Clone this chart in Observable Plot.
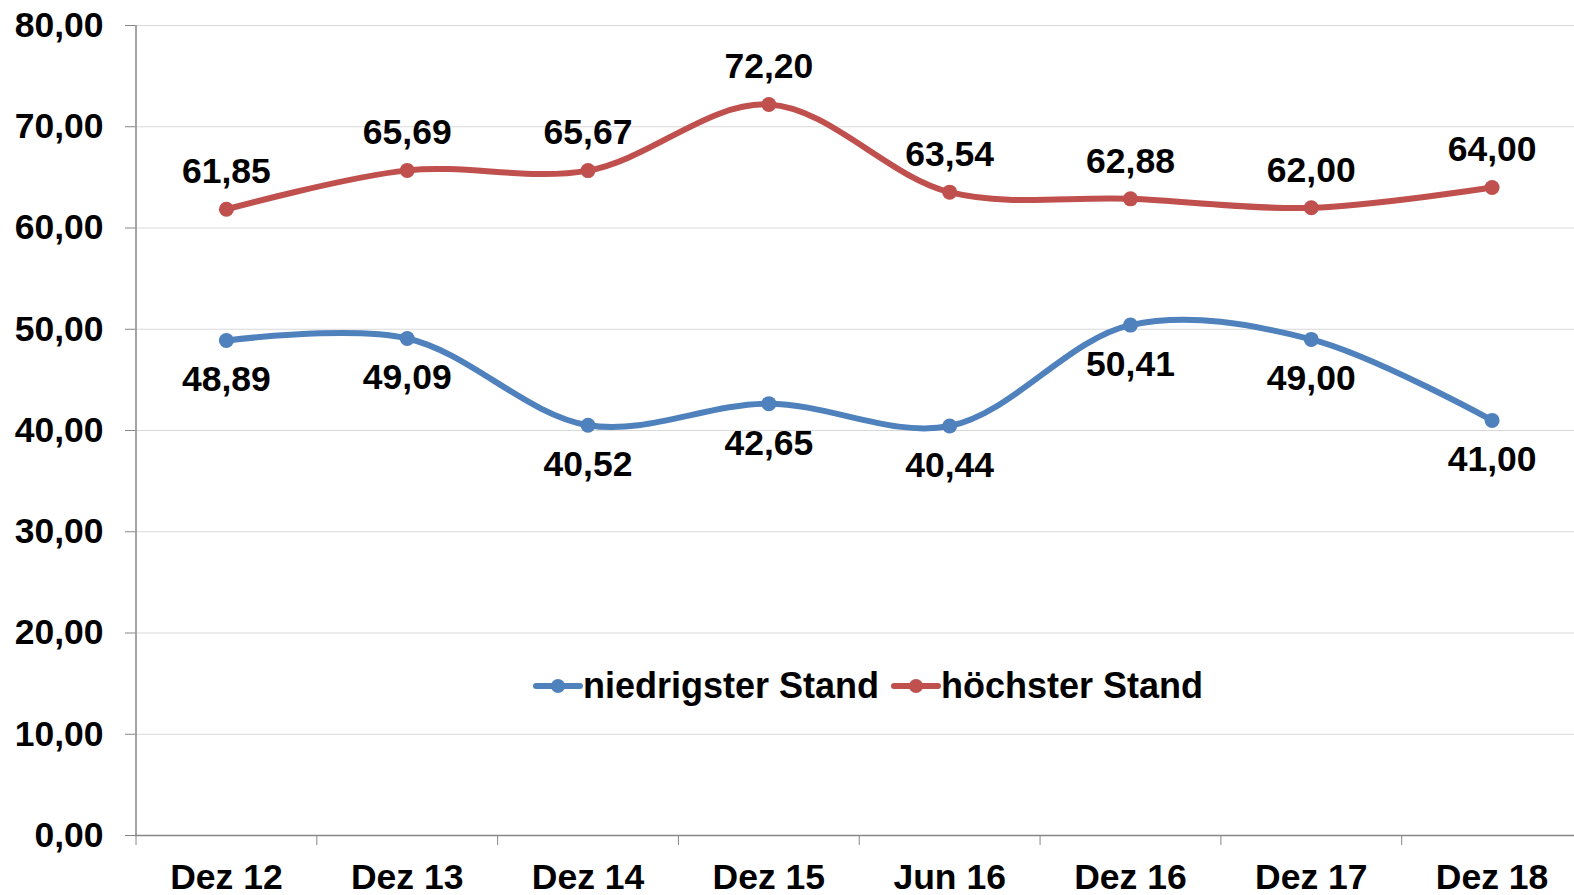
<!DOCTYPE html>
<html>
<head>
<meta charset="utf-8">
<script src="https://cdn.jsdelivr.net/npm/d3@7"></script>
<script src="https://cdn.jsdelivr.net/npm/@observablehq/plot@0.6"></script>
<style>
  html, body { margin: 0; padding: 0; background: #fff; overflow: hidden; }
  #wrap { position: relative; width: 1574px; height: 895px; font-family: "Liberation Sans", Arial, sans-serif; }
  #legend { position: absolute; left: 533px; top: 665px; display: flex; align-items: center; font-weight: bold; font-size: 36px; color: #000; white-space: nowrap; }
  #legend .item { display: flex; align-items: center; margin-right: 12px; }
  #legend svg { display: block; }
</style>
</head>
<body>
<div id="wrap"><div id="chart"></div><div id="legend"></div></div>
<script>
const categories = ["Dez 12", "Dez 13", "Dez 14", "Dez 15", "Jun 16", "Dez 16", "Dez 17", "Dez 18"];
const niedrigster = [48.89, 49.09, 40.52, 42.65, 40.44, 50.41, 49.00, 41.00];
const hoechster = [61.85, 65.69, 65.67, 72.20, 63.54, 62.88, 62.00, 64.00];
const yTicks = [0, 10, 20, 30, 40, 50, 60, 70, 80];
const seriesNames = ["niedrigster Stand", "höchster Stand"];
const seriesColors = ["#4f81bd", "#c0504d"];

const fmt = d => d.toFixed(2).replace(".", ",");
const idx = categories.map((c, i) => i);
const bounds = categories.map((c, i) => i - 0.5).concat([categories.length - 0.5]);
const low = categories.map((c, i) => ({i, v: niedrigster[i]}));
const high = categories.map((c, i) => ({i, v: hoechster[i]}));

const chart = Plot.plot({
  width: 1574,
  height: 895,
  marginLeft: 135,
  marginRight: 0,
  marginTop: 25,
  marginBottom: 60,
  style: {fontFamily: '"Liberation Sans", Arial, sans-serif', fontSize: "35px", fontWeight: "bold", color: "#000", background: "#fff", overflow: "hidden"},
  x: {type: "linear", domain: [-0.5, categories.length - 0.5], range: [135.5, 1582], label: null},
  y: {domain: [0, 80], label: null},
  marks: [
    Plot.gridY(yTicks.filter(d => d > 0), {stroke: "#d9d9d9", strokeOpacity: 1, strokeWidth: 1}),
    Plot.axisY(yTicks, {tickSize: 10, tickPadding: 22, tickFormat: fmt, label: null, stroke: "#868686", strokeOpacity: 1, fill: "#000", fontSize: 35.5, fontWeight: "bold"}),
    Plot.axisX(bounds, {tickSize: 10, tickFormat: () => "", label: null, stroke: "#868686", strokeOpacity: 1}),
    Plot.axisX(idx, {tickSize: 0, tickPadding: 28, tickFormat: i => categories[i], label: null, fill: "#000", fontSize: 35.5, fontWeight: "bold"}),
    Plot.ruleX([-0.5], {y1: 0, y2: 80, stroke: "#868686", strokeWidth: 1.5}),
    Plot.ruleY([0], {stroke: "#868686", strokeWidth: 1.5}),
    Plot.line(low, {x: "i", y: "v", stroke: seriesColors[0], strokeWidth: 6, curve: "catmull-rom"}),
    Plot.line(high, {x: "i", y: "v", stroke: seriesColors[1], strokeWidth: 6, curve: "catmull-rom"}),
    Plot.dot(low, {x: "i", y: "v", r: 7.5, fill: seriesColors[0]}),
    Plot.dot(high, {x: "i", y: "v", r: 7.5, fill: seriesColors[1]}),
    Plot.text(low, {x: "i", y: "v", text: d => fmt(d.v), dy: 39.5, fill: "#000", fontSize: 35.5, fontWeight: "bold"}),
    Plot.text(high, {x: "i", y: "v", text: d => fmt(d.v), dy: -37.5, fill: "#000", fontSize: 35.5, fontWeight: "bold"})
  ]
});
document.getElementById("chart").appendChild(chart);

const legend = document.getElementById("legend");
seriesNames.forEach((name, k) => {
  const item = document.createElement("div");
  item.className = "item";
  item.innerHTML = `<svg width="50" height="20"><line x1="3" y1="10" x2="47" y2="10" stroke="${seriesColors[k]}" stroke-width="6" stroke-linecap="round"/><circle cx="25" cy="10" r="7" fill="${seriesColors[k]}"/></svg><span>${name}</span>`;
  legend.appendChild(item);
});
</script>
</body>
</html>
